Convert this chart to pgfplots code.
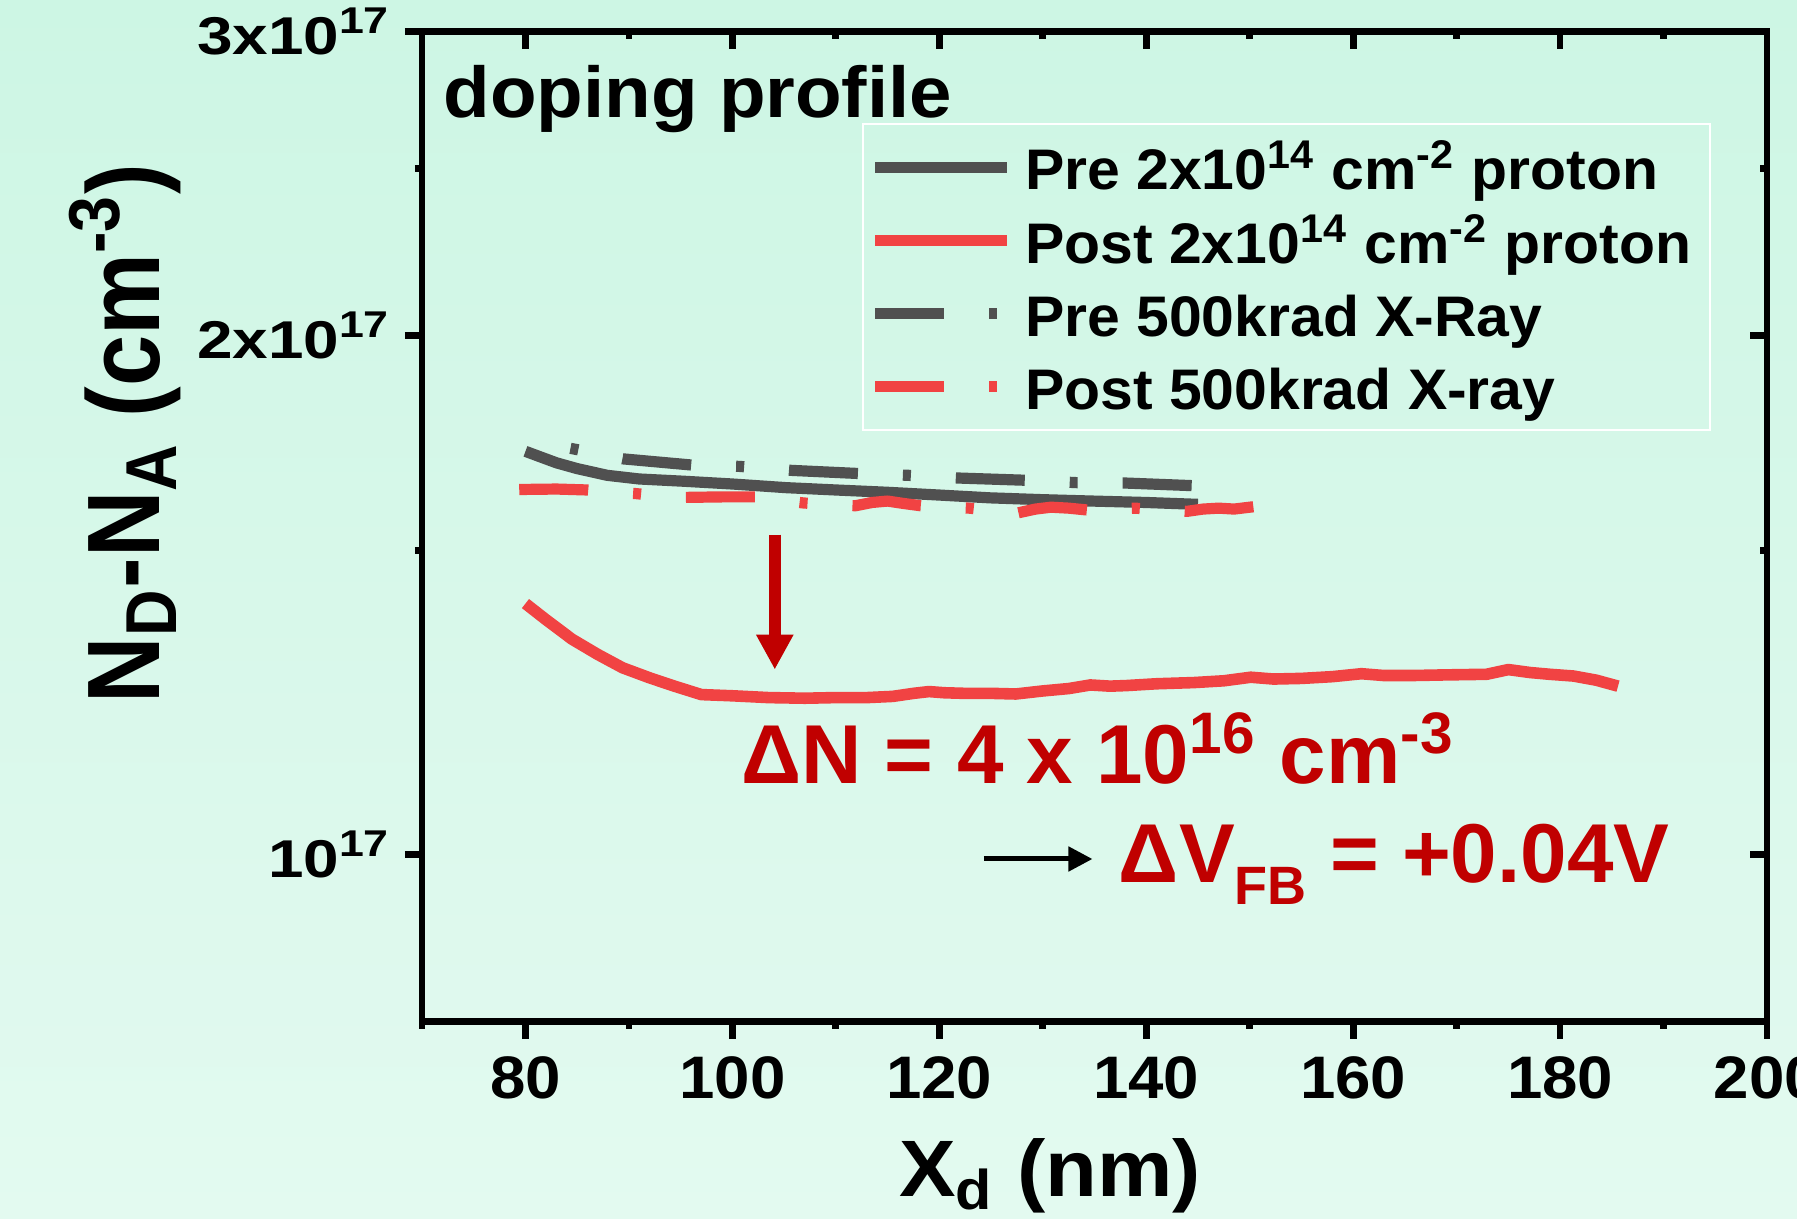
\documentclass[border=0pt]{standalone}
\usepackage{fontspec}
\setmainfont{Liberation Sans}[FakeStretch=1.06]
\newfontfamily\plainfont{Liberation Sans}
\newfontfamily\legfont{Liberation Sans}[FakeStretch=1.03]
\newfontfamily\ytf{Liberation Sans}[FakeStretch=1.2]
\usepackage{pgfplots}
\pgfplotsset{compat=1.18}
\usetikzlibrary{arrows.meta}
\definecolor{bgtop}{RGB}{205,246,228}
\definecolor{bgbot}{RGB}{227,250,240}
\definecolor{dgray}{RGB}{80,80,80}
\definecolor{lred}{RGB}{241,67,67}
\definecolor{dred}{RGB}{192,0,0}

\pgfplotstableread{
x y
80 1.713e17
81.5 1.700e17
83 1.687e17
85 1.674e17
87.9 1.659e17
91 1.651e17
95.3 1.646e17
100 1.640e17
105.2 1.632e17
110 1.627e17
115 1.622e17
120 1.616e17
124.9 1.610e17
130 1.606e17
134.8 1.603e17
140 1.600e17
145 1.596e17
}\preproton

\pgfplotstableread{
x y
80 1.398e17
82 1.368e17
84.5 1.333e17
87 1.306e17
89.4 1.283e17
92 1.266e17
94.4 1.252e17
97 1.238e17
100 1.236e17
103.5 1.233e17
107 1.232e17
110 1.233e17
113 1.233e17
115.5 1.235e17
117.5 1.240e17
119 1.243e17
120.5 1.241e17
122.5 1.240e17
125 1.240e17
127.4 1.239e17
130 1.244e17
132.5 1.248e17
134.6 1.254e17
136.5 1.252e17
138.1 1.253e17
141 1.256e17
144.6 1.258e17
147.5 1.261e17
150.1 1.267e17
152.3 1.264e17
155 1.265e17
158 1.268e17
160.8 1.273e17
162.9 1.270e17
166 1.270e17
169 1.271e17
172.9 1.272e17
175 1.280e17
177.1 1.275e17
179 1.272e17
181.3 1.269e17
183.5 1.262e17
185.6 1.252e17
}\postproton

\pgfplotstableread{
x y
84.35 1.720e17
85 1.717e17
89.4 1.696e17
96.1 1.682e17
100.7 1.679e17
105.7 1.670e17
112.3 1.663e17
117 1.659e17
121.9 1.653e17
128.6 1.648e17
133.3 1.643e17
138 1.642e17
144.9 1.636e17
}\prexray

\pgfplotstableread{
x y
79.4 1.628e17
83 1.629e17
86 1.627e17
88.5 1.622e17
90.7 1.619e17
93 1.614e17
95.5 1.611e17
99 1.612e17
102.2 1.612e17
104.5 1.605e17
106.9 1.599e17
109 1.596e17
111.9 1.593e17
113.5 1.600e17
115 1.603e17
116.5 1.598e17
118.2 1.593e17
120.5 1.590e17
122.9 1.588e17
125 1.583e17
127.6 1.578e17
129.3 1.586e17
130.8 1.590e17
132.5 1.588e17
134.3 1.584e17
136.5 1.586e17
138.9 1.588e17
141.5 1.584e17
143.9 1.581e17
145.5 1.586e17
147 1.588e17
148.5 1.586e17
150.4 1.591e17
}\postxray

\begin{document}
\begin{tikzpicture}
\shade[top color=bgtop,bottom color=bgbot] (-105.5pt,-49.25pt) rectangle (343.75pt,255.5pt);
\begin{axis}[
  scale only axis, width=336.25pt, height=247.5pt,
  xmin=70, xmax=200, ymode=log, ymin=0.8e17, ymax=3e17,
  clip=false,
  axis line style={line width=1.7pt},
  tick style={black, line width=1.7pt},
  major tick length=4.25pt, minor tick length=1.75pt,
  tick align=outside, xtick pos=left, ytick pos=left,
  xtick={80,100,120,140,160,180,200},
  xticklabels={80,100,120,140,160,180,200},
  minor xtick={70,90,110,130,150,170,190},
  ytick={1e17,2e17,3e17},
  yticklabels={10\textsuperscript{17},2x10\textsuperscript{17},3x10\textsuperscript{17}},
  minor ytick={1.5e17,2.5e17},
  xticklabel style={font=\fontsize{15}{18}\selectfont\bfseries, yshift=-1pt},
  yticklabel style={font=\ytf\fontsize{13.3}{16}\selectfont\bfseries},
  legend style={at={(axis description cs:0.327,0.908)}, anchor=north west,
    draw=white, line width=0.5pt, fill=none,
    font=\legfont\fontsize{14.3}{17}\selectfont\bfseries,
    inner xsep=1.75pt, inner ysep=1.75pt, row sep=0pt,
    nodes={text height=13.8pt, text depth=2.5pt, inner ysep=1pt, inner xsep=3pt}},
  legend cell align=left,
  legend image code/.code={\draw[#1] (0pt,0pt) -- (33pt,0pt);},
]
\addlegendimage{dgray, line width=2.8pt}
\addlegendentry{Pre 2x10\textsuperscript{14} cm\textsuperscript{-2} proton}
\addlegendimage{lred, line width=2.8pt}
\addlegendentry{Post 2x10\textsuperscript{14} cm\textsuperscript{-2} proton}
\addlegendimage{dgray, line width=2.8pt, dash pattern=on 17.25pt off 11.25pt on 2pt off 11.25pt}
\addlegendentry{Pre 500krad X-Ray}
\addlegendimage{lred, line width=2.8pt, dash pattern=on 17.25pt off 11.25pt on 2pt off 11.25pt}
\addlegendentry{Post 500krad X-ray}

\addplot[forget plot, dgray, line width=2.8pt, line join=round] table {\preproton};
\addplot[forget plot, lred, line width=2.9pt, line join=round] table {\postproton};
\addplot[forget plot, dgray, line width=2.8pt, line join=round, dash pattern=on 2pt off 11.25pt on 17.25pt off 11.25pt] table {\prexray};
\addplot[forget plot, lred, line width=2.8pt, line join=round, dash pattern=on 17.25pt off 11.25pt on 2pt off 11.25pt] table {\postxray};

\draw[dred, line width=3pt, -{Triangle[length=8.75pt,width=8.75pt]}] (axis cs:104.1,1.533e17) -- (axis cs:104.1,1.280e17);
\draw[black, line width=1.25pt, -{Triangle[length=6pt,width=6pt]}] (axis cs:124.3,0.994e17) -- (axis cs:134.8,0.994e17);

\node[anchor=base west, font=\fontsize{18}{20}\selectfont\bfseries] at (axis description cs:0.0055,0.9128) {doping profile};
\node[anchor=base west, text=dred, font=\plainfont\fontsize{20.9}{24}\selectfont\bfseries] at (axis cs:99.5,1.100e17) {ΔN = 4 x 10\textsuperscript{16} cm\textsuperscript{-3}};
\node[anchor=base west, text=dred, font=\plainfont\fontsize{20.9}{24}\selectfont\bfseries] at (axis cs:136.0,0.9627e17) {ΔV{\fontsize{13.5}{14}\selectfont\raisebox{-5.5pt}{FB}} = +0.04V};

\node[anchor=base, font=\fontsize{20}{24}\selectfont\bfseries] at (axis description cs:0.467,-0.1768) {X\textsubscript{d} (nm)};
\node[transform shape, rotate=90, yscale=1.12, anchor=base, font=\plainfont\fontsize{23}{28}\selectfont\bfseries] at (axis description cs:-0.1948,0.594) {N\textsubscript{D}-N\textsubscript{A} (cm\textsuperscript{-3})};
\end{axis}
\begin{axis}[
  scale only axis, width=336.25pt, height=247.5pt,
  xmin=70, xmax=200, ymode=log, ymin=0.8e17, ymax=3e17,
  axis line style={line width=1.7pt},
  tick style={black, line width=1.7pt},
  major tick length=4.25pt, minor tick length=1.75pt,
  tick align=inside, xtick pos=right, ytick pos=right,
  xtick={80,100,120,140,160,180,200},
  minor xtick={70,90,110,130,150,170,190},
  ytick={1e17,2e17,3e17},
  minor ytick={1.5e17,2.5e17},
  xticklabels={}, yticklabels={},
]
\end{axis}
\pgfresetboundingbox
\useasboundingbox (-105.5pt,-49.25pt) rectangle (343.75pt,255.5pt);
\end{tikzpicture}
\end{document}
